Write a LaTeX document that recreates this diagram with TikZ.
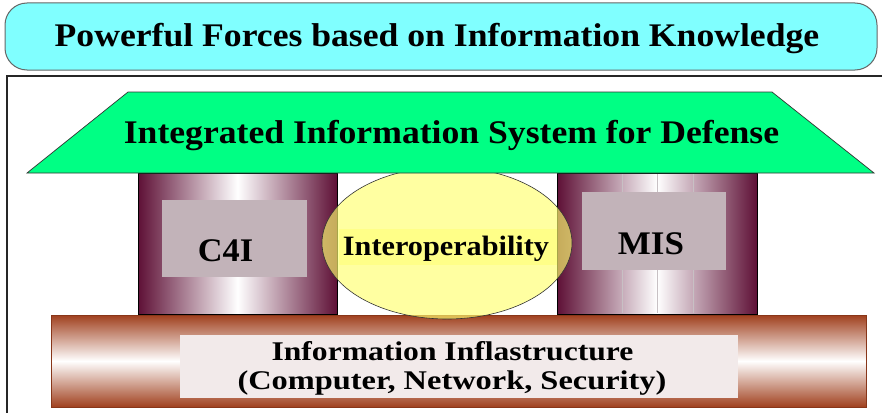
\documentclass[tikz,border=0pt]{standalone}
\usepackage{fontspec}
\setmainfont{Liberation Serif}
\usetikzlibrary{shapes.geometric}
\definecolor{topcyan}{HTML}{80FFFF}
\definecolor{roofgreen}{HTML}{00FF84}
\definecolor{maroon}{HTML}{5E1036}
\definecolor{pillarbox}{HTML}{C2B3B9}
\definecolor{rust}{HTML}{A0401E}
\definecolor{baseinner}{HTML}{F2EAEA}
\definecolor{ellyellow}{HTML}{FFFF70}
\definecolor{bandyellow}{HTML}{FFFF88}
\definecolor{stripe}{HTML}{C8C0C4}
\tikzset{
  lbl/.style={anchor=base, inner sep=0pt, font=\bfseries},
  pillar/.style={draw=black, line width=0.8pt, left color=maroon, right color=maroon, middle color=white},
  innerbox/.style={fill=pillarbox, draw=none},
}
\begin{document}
\begin{tikzpicture}[x=1pt,y=-1pt]
\useasboundingbox (0,0) rectangle (882,412);
\fill[white] (0,0) rectangle (882,412);
% outer frame
\draw[line width=1.6pt, black!85] (7,76) rectangle (900,430);
% base cylinder
\path[top color=rust, bottom color=rust, middle color=white, draw=rust!85!black, line width=0.5pt] (51,315) rectangle (866,407);
\fill[baseinner] (180,335) rectangle (738,398);
\node[lbl, font=\bfseries\fontsize{27}{29}\selectfont] (infra1) at (452.5,360) {\scalebox{1.17}[1]{Information Inflastructure}};
\node[lbl, font=\bfseries\fontsize{27}{29}\selectfont] (infra2) at (452,389) {\scalebox{1.20}[1]{(Computer, Network, Security)}};
% left pillar
\path[pillar] (138,173) rectangle (337,314);
\fill[innerbox] (162,200) rectangle (307,277);
\node[lbl, font=\bfseries\fontsize{33}{35}\selectfont] (c4i) at (225.5,261) {\scalebox{1.04}[1]{C4I}};
% right pillar
\path[pillar] (557,173) rectangle (757,314);
\foreach \sx in {622,657,693} \draw[stripe, line width=0.8pt] (\sx,174) -- (\sx,313);
\draw[black, line width=0.8pt] (557,173) rectangle (757,314);
\fill[innerbox] (582,192) rectangle (726,270);
\node[lbl, font=\bfseries\fontsize{33}{35}\selectfont] (mis) at (651,254) {\scalebox{1.06}[1]{MIS}};
% interoperability ellipse
\fill[ellyellow, fill opacity=0.65] (447,243) ellipse [x radius=125, y radius=76];
\draw[black!80, line width=0.6pt] (447,243) ellipse [x radius=125, y radius=76];
\fill[bandyellow] (339,229) rectangle (557,265);
\node[lbl, font=\bfseries\fontsize{28}{30}\selectfont] (interop) at (446,255) {\scalebox{1.08}[1]{Interoperability}};
% roof
\path[fill=roofgreen, draw=black!80, line width=0.7pt] (128,92) -- (772,92) -- (874,173) -- (27,173) -- cycle;
\node[lbl, font=\bfseries\fontsize{33}{35}\selectfont] (roof) at (451.5,143) {\scalebox{1.08}[1]{Integrated Information System for Defense}};
% top banner
\path[fill=topcyan, draw=black!60, line width=1pt, rounded corners=22pt] (5,3) rectangle (877,70);
\node[lbl, font=\bfseries\fontsize{33}{35}\selectfont] (title) at (437,46) {\scalebox{1.08}[1]{Powerful Forces based on Information Knowledge}};
\end{tikzpicture}
\end{document}
